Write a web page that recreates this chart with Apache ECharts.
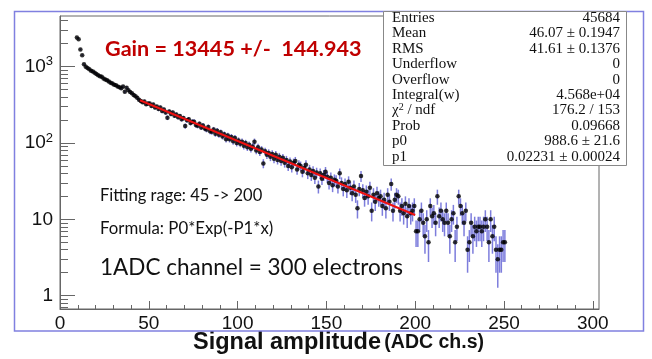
<!DOCTYPE html>
<html><head><meta charset="utf-8">
<script src="https://cdn.jsdelivr.net/npm/echarts@6/dist/echarts.min.js"></script>
<style>html,body{margin:0;padding:0;background:#fff}#c{width:652px;height:359px}</style>
</head><body><div id="c"></div>
<script>
// ---- data ----
const FIRST_BIN_CENTER = 9.5;   // ADC channel of first filled bin
const BIN_WIDTH = 1;
const counts = [
  2410, 2290, 1680, 1410, 1070, 995,
  960, 925, 885, 860, 830,
  800, 772, 750, 735, 700,
  680, 665, 640, 615, 600,
  580, 570, 548, 535, 520,
  548, 470, 530, 492, 465,
  448, 425, 410, 390, 368,
  355, 342, 350, 322, 330,
  330, 305, 318, 292, 300,
  278, 292, 262, 275, 250,
  214, 258, 240, 250, 228,
  236, 218, 225, 205, 212,
  167, 198, 205, 183, 190,
  190, 172, 168, 178, 160,
  170, 155, 150, 162, 142,
  140, 150, 132, 145, 128,
  138, 122, 130, 112, 125,
  112, 120, 105, 116, 100,
  108, 98, 104, 92, 100,
  88, 95, 84, 90, 104,
  80, 88, 76, 82, 54,
  78, 70, 74, 66, 72,
  62, 70, 60, 66, 58,
  64, 55, 60, 50, 57,
  48, 55, 58, 45, 52,
  50, 42, 47, 52, 40,
  45, 38, 43, 35, 41,
  27, 40, 34, 38, 42,
  36, 30, 35, 28, 33,
  32, 27, 40, 30, 25,
  29, 24, 31, 26, 22,
  27, 21, 14, 25, 37,
  24, 19, 23, 20, 26,
  13, 21, 17, 22, 19,
  20, 15, 18, 14, 21,
  17, 29, 13, 18, 21,
  20, 13, 15, 12, 16,
  11, 15, 12, 13, 15,
  7, 7, 10, 13, 9,
  6, 10, 5, 15, 11,
  12, 9, 20, 11, 13,
  10, 9, 13, 9, 6,
  10, 12, 5, 8, 20,
  15, 12, 9, 13, 4,
  5, 9, 6, 8, 7,
  8, 8, 7, 8, 10,
  8, 5, 10, 6, 8,
  4, 3, 4, 4, 5,
  5
];
const fitRange = [45, 200];
const fitP0 = 988.6, fitP1 = 0.02231;
const xMajorTicks = [0, 50, 100, 150, 200, 250, 300];
const xMinorTicks = [10,20,30,40,60,70,80,90,110,120,130,140,160,170,180,190,210,220,230,240,260,270,280,290];
const yMajorTicks = [1, 10, 100, 1000];
const yMinorTicks = [0.7,0.8,0.9,2,3,4,5,6,7,8,9,20,30,40,50,60,70,80,90,200,300,400,500,600,700,800,900,2000,3000,4000];
const statsLabels = ['Entries','Mean','RMS','Underflow','Overflow','Integral(w)','{c|χ}{s|2}{c| / ndf}','Prob','p0','p1'];
const statsValues = ['45684','46.07 ± 0.1947','41.61 ± 0.1376','0','0','4.568e+04','176.2 / 153','0.09668','988.6 ± 21.6','0.02231 ± 0.00024'];
const gainText = 'Gain = 13445 +/-  144.943';
const notes = ['Fitting rage: 45 -> 200', 'Formula: P0*Exp(-P1*x)', '1ADC channel = 300 electrons'];

// ---- build ----
const points = counts.map((v, i) => [FIRST_BIN_CENTER + i * BIN_WIDTH, v]);
const errBars = counts.map((v, i) => [FIRST_BIN_CENTER + i * BIN_WIDTH, v - Math.sqrt(v), v + Math.sqrt(v)]);
const fitLine = fitRange.map(x => [x, fitP0 * Math.exp(-fitP1 * x)]);

const XMIN = 0, XMAX = 303.5, YMIN = 0.67, YMAX = 4600;
const axisCol = '#666';
const labelFont = 'Liberation Sans';

const chart = echarts.init(document.getElementById('c'), null, {renderer: 'canvas'});

const statsGraphics = [];
const rowY0 = 18, rowStep = 15.4, statFS = 15;
statsLabels.forEach((t, i) => {
  statsGraphics.push({type: 'text', x: 392, y: rowY0 + i * rowStep, z: 101,
    style: {text: t, fontFamily: 'Liberation Serif', fontSize: statFS, fill: '#111', verticalAlign: 'middle',
      rich: {c: {fontFamily: 'Liberation Serif', fontSize: statFS, fill: '#111'}, s: {fontFamily: 'Liberation Serif', fontSize: 10, fill: '#111', verticalAlign: 'top', padding: [0,0,6,0]}}}});
  statsGraphics.push({type: 'text', x: 620, y: rowY0 + i * rowStep, z: 101,
    style: {text: statsValues[i], fontFamily: 'Liberation Serif', fontSize: statFS, fill: '#111', align: 'right', verticalAlign: 'middle'}});
});

chart.setOption({
  animation: false,
  grid: {left: 60, top: 16, right: 53, bottom: 50, show: true, borderColor: axisCol, borderWidth: 1},
  xAxis: [
    {type: 'value', min: XMIN, max: XMAX,
      axisLine: {show: true, lineStyle: {color: axisCol, width: 1}},
      axisTick: {show: true, inside: true, length: 8, customValues: xMajorTicks, lineStyle: {color: axisCol}},
      axisLabel: {customValues: xMajorTicks, color: '#111', fontFamily: labelFont, fontSize: 19, margin: 5},
      splitLine: {show: false}},
    {type: 'value', min: XMIN, max: XMAX, position: 'bottom',
      axisLine: {show: false},
      axisTick: {show: true, inside: true, length: 4, customValues: xMinorTicks, lineStyle: {color: axisCol}},
      axisLabel: {show: false}, splitLine: {show: false}}
  ],
  yAxis: [
    {type: 'log', logBase: 10, min: YMIN, max: YMAX,
      axisLine: {show: true, lineStyle: {color: axisCol, width: 1}},
      axisTick: {show: true, inside: true, length: 15, customValues: yMajorTicks, lineStyle: {color: axisCol}},
      axisLabel: {customValues: yMajorTicks, color: '#111', fontFamily: labelFont, fontSize: 19, margin: 7,
        formatter: v => v < 50 ? String(Math.round(v)) : '10{s|' + Math.round(Math.log10(v)) + '}',
        rich: {s: {fontFamily: labelFont, fontSize: 13, color: '#111', verticalAlign: 'top', padding: [0, 0, 10, 0]}}},
      splitLine: {show: false}},
    {type: 'log', logBase: 10, min: YMIN, max: YMAX, position: 'left',
      axisLine: {show: false},
      axisTick: {show: true, inside: true, length: 8, customValues: yMinorTicks, lineStyle: {color: axisCol}},
      axisLabel: {show: false}, splitLine: {show: false}}
  ],
  series: [
    {type: 'custom', xAxisIndex: 0, yAxisIndex: 0, data: errBars, clip: true, z: 2,
      renderItem: (params, api) => {
        const x = api.value(0);
        const lo = Math.max(api.value(1), YMIN);
        const p1 = api.coord([x, lo]);
        const p2 = api.coord([x, api.value(2)]);
        return {type: 'line', shape: {x1: p1[0], y1: p1[1], x2: p2[0], y2: p2[1]},
          style: {stroke: 'rgba(70,70,205,0.7)', lineWidth: 1.5}};
      }},
    {type: 'scatter', xAxisIndex: 0, yAxisIndex: 0, data: points, symbol: 'circle', symbolSize: 4.5,
      itemStyle: {color: '#000'}, z: 3, clip: true},
    {type: 'line', xAxisIndex: 0, yAxisIndex: 0, data: fitLine, showSymbol: false, symbol: 'none',
      lineStyle: {color: '#ee1111', width: 2}, z: 4}
  ],
  graphic: [
    {type: 'rect', shape: {x: 14.5, y: 11.5, width: 629, height: 319.5}, style: {fill: 'none', stroke: '#8080e0', lineWidth: 1.5}, z: 90},
    {type: 'rect', shape: {x: 383.5, y: 11.5, width: 243, height: 154}, style: {fill: '#fff', stroke: '#888', lineWidth: 1}, z: 100},
    ...statsGraphics,
    {type: 'text', x: 105, y: 49.5, z: 50, style: {text: gainText, fontFamily: 'Lato', fontWeight: 'bold', fontSize: 21.6, fill: '#c00000', verticalAlign: 'middle'}},
    {type: 'text', x: 100, y: 196, z: 50, style: {text: notes[0], fontFamily: 'Lato', fontSize: 16.5, fill: '#111', verticalAlign: 'middle'}},
    {type: 'text', x: 100, y: 229, z: 50, style: {text: notes[1], fontFamily: 'Lato', fontSize: 16.8, fill: '#111', verticalAlign: 'middle'}},
    {type: 'text', x: 100, y: 268, z: 50, style: {text: notes[2], fontFamily: 'Lato', fontSize: 22.5, fill: '#111', verticalAlign: 'middle'}},
    {type: 'text', x: 193, y: 343, z: 50, style: {text: '{a|Signal amplitude} {b|(ADC ch.s)}', verticalAlign: 'middle',
      rich: {a: {fontFamily: 'Liberation Sans', fontWeight: 'bold', fontSize: 23.5, fill: '#111'},
             b: {fontFamily: 'Liberation Sans', fontWeight: 'bold', fontSize: 19.5, fill: '#111'}}}}
  ]
});
</script></body></html>
